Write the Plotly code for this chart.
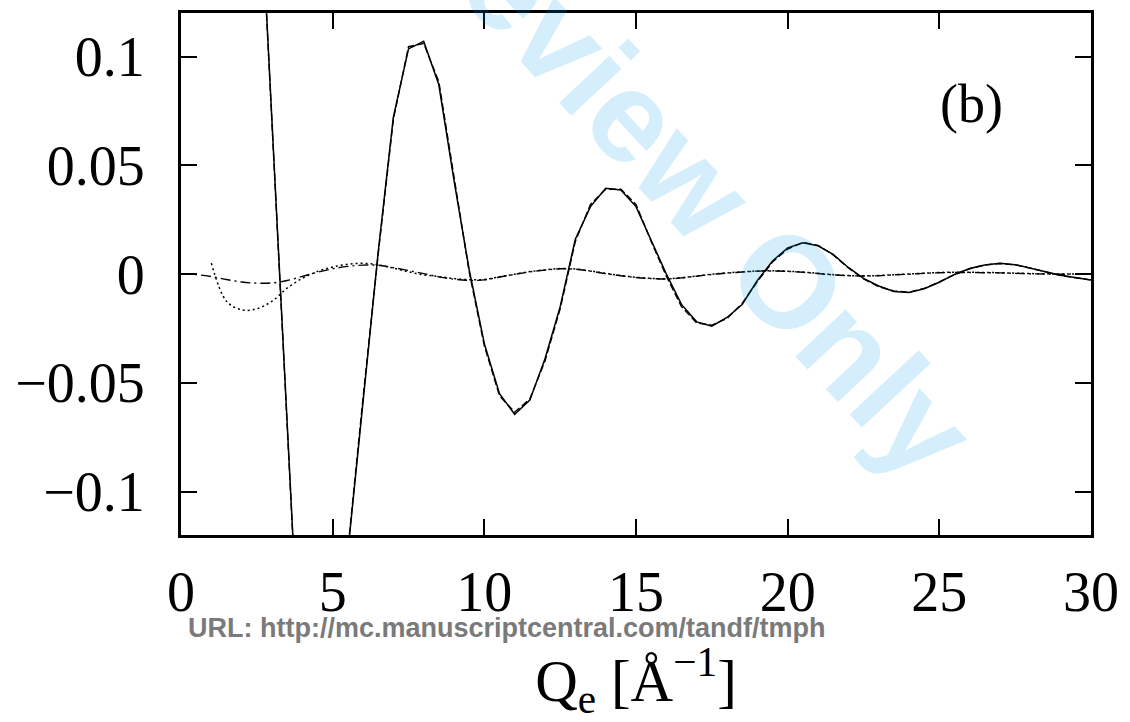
import plotly.graph_objects as go

# ---- data ----
q_main = [2.0, 2.5, 3.0, 3.5, 4.0, 4.5, 5.0, 5.5, 6.0, 6.5, 7.0, 7.5, 8.0, 8.5, 9.0, 9.5,
          10.0, 10.5, 11.0, 11.5, 12.0, 12.5, 13.0, 13.5, 14.0, 14.5, 15.0, 15.5, 16.0, 16.5,
          17.0, 17.5, 18.0, 18.5, 19.0, 19.5, 20.0, 20.5, 21.0, 21.5, 22.0, 22.5, 23.0, 23.5,
          24.0, 24.5, 25.0, 25.5, 26.0, 26.5, 27.0, 27.5, 28.0, 28.5, 29.0, 29.5, 30.0]
solid = [0.34, 0.209, 0.070, -0.0685, -0.207, -0.245, -0.200, -0.128, -0.058, 0.010, 0.072, 0.1035, 0.107,
         0.087, 0.043, 0.002, -0.032, -0.055, -0.0645, -0.058, -0.039, -0.015, 0.016, 0.031, 0.0394,
         0.0386, 0.031, 0.0156, 0.0, -0.014, -0.022, -0.024, -0.020, -0.014, -0.003, 0.006, 0.012,
         0.0144, 0.013, 0.009, 0.003, -0.002, -0.0055, -0.0080, -0.0085, -0.0068, -0.0038, -0.0002,
         0.0025, 0.0041, 0.0049, 0.0043, 0.0028, 0.0010, -0.0006, -0.0018, -0.0028]
dashed = [0.34, 0.208, 0.069, -0.0695, -0.208, -0.245, -0.199, -0.127, -0.057, 0.009, 0.071, 0.1045, 0.106,
          0.0885, 0.044, 0.001, -0.033, -0.056, -0.0635, -0.0575, -0.040, -0.016, 0.015, 0.032, 0.0390,
          0.0390, 0.032, 0.0150, -0.001, -0.015, -0.0225, -0.0235, -0.0205, -0.0135, -0.0035, 0.0055, 0.0115,
          0.0145, 0.0132, 0.0088, 0.0028, -0.0022, -0.0058, -0.0078, -0.0084, -0.0066, -0.0036, -0.0003,
          0.0024, 0.0042, 0.0048, 0.0042, 0.0027, 0.0009, -0.0007, -0.0018, -0.0027]

q_dot = [1.0, 1.5, 2.0, 2.5, 3.0, 3.5, 4.0, 4.5, 5.0, 5.5, 6.0, 6.5, 7.0, 7.5, 8.0, 8.5, 9.0, 9.5,
         10.0, 10.5, 11.0, 11.5, 12.0, 12.5, 13.0, 13.5, 14.0, 14.5, 15.0, 15.5, 16.0, 16.5, 17.0,
         17.5, 18.0, 18.5, 19.0, 19.5, 20.0, 20.5, 21.0, 21.5, 22.0, 22.5, 23.0, 23.5, 24.0, 24.5,
         25.0, 25.5, 26.0, 26.5, 27.0, 27.5, 28.0, 28.5, 29.0, 29.5, 30.0]
dotted = [0.005, -0.0125, -0.0165, -0.016, -0.0125, -0.0065, -0.002, 0.0012, 0.0032, 0.0045, 0.0049,
          0.0042, 0.0027, 0.0010, -0.0004, -0.0012, -0.0021, -0.0026, -0.0025, -0.0013, -0.0001, 0.0011,
          0.0019, 0.0025, 0.0023, 0.0014, 0.0003, -0.0007, -0.0015, -0.0020, -0.0022, -0.0017, -0.0009,
          -0.0001, 0.0005, 0.0010, 0.0014, 0.0015, 0.0013, 0.0009, 0.0003, -0.0003, -0.0007, -0.0008,
          -0.0007, -0.0003, 0.0000, 0.0004, 0.0007, 0.0008, 0.0008, 0.0007, 0.0006, 0.0004, 0.0002,
          0.0001, 0.0000, 0.0000, 0.0000]

q_dd = [0.0, 0.5, 1.0, 1.5, 2.0, 2.5, 3.0, 3.5, 4.0, 4.5, 5.0, 5.5, 6.0, 6.5, 7.0, 7.5, 8.0, 8.5, 9.0,
        9.5, 10.0, 10.5, 11.0, 11.5, 12.0, 12.5, 13.0, 13.5, 14.0, 14.5, 15.0, 15.5, 16.0, 16.5, 17.0,
        17.5, 18.0, 18.5, 19.0, 19.5, 20.0, 20.5, 21.0, 21.5, 22.0, 22.5, 23.0, 23.5, 24.0, 24.5, 25.0,
        25.5, 26.0, 26.5, 27.0, 27.5, 28.0, 28.5, 29.0, 29.5, 30.0]
dashdot = [0.0, -0.0003, -0.0012, -0.0025, -0.0037, -0.0042, -0.0041, -0.0030, -0.0011, 0.0008, 0.0024,
           0.0035, 0.0041, 0.0040, 0.0029, 0.0016, 0.0002, -0.0013, -0.0024, -0.0029, -0.0027, -0.0014,
           -0.0002, 0.0010, 0.0018, 0.0024, 0.0022, 0.0013, 0.0002, -0.0008, -0.0016, -0.0021, -0.0023,
           -0.0018, -0.0010, -0.0002, 0.0004, 0.0009, 0.0013, 0.0014, 0.0012, 0.0008, 0.0002, -0.0004,
           -0.0008, -0.0009, -0.0008, -0.0004, -0.0001, 0.0003, 0.0006, 0.0007, 0.0007, 0.0006, 0.0005,
           0.0003, 0.0001, 0.0000, -0.0001, 0.0000, 0.0000]

x_ticks = [0, 5, 10, 15, 20, 25, 30]
y_ticks = [-0.1, -0.05, 0, 0.05, 0.1]
y_tick_text = ["\u22120.1", "\u22120.05", "0", "0.05", "0.1"]

SERIF = "Liberation Serif, Times New Roman, serif"

fig = go.Figure()
fig.add_trace(go.Scatter(x=q_dd, y=dashdot, mode="lines",
                         line=dict(color="black", width=1.4, dash="10px,4px,2px,4px"),
                         line_shape="spline", showlegend=False))
fig.add_trace(go.Scatter(x=q_dot, y=dotted, mode="lines",
                         line=dict(color="black", width=1.5, dash="2px,3px"),
                         line_shape="spline", showlegend=False))
fig.add_trace(go.Scatter(x=q_main, y=dashed, mode="lines",
                         line=dict(color="black", width=1.4, dash="7px,3px"), showlegend=False))
fig.add_trace(go.Scatter(x=q_main, y=solid, mode="lines",
                         line=dict(color="black", width=1.5), showlegend=False))

axis_common = dict(showline=True, linecolor="black", linewidth=3, mirror="allticks",
                   ticks="inside", ticklen=16, tickwidth=2, tickcolor="black",
                   showgrid=False, zeroline=False, automargin=False,
                   tickfont=dict(family=SERIF, size=56, color="black"))

fig.update_xaxes(range=[0, 30], tickvals=x_ticks, ticklabelstandoff=6,
                 title=dict(text="Q<sub>e</sub> [Å<sup>\u22121</sup>]",
                            font=dict(family=SERIF, size=59, color="black"), standoff=48),
                 **axis_common)
fig.update_yaxes(range=[-0.12, 0.12], tickvals=y_ticks, ticktext=y_tick_text,
                 ticklabelstandoff=22, **axis_common)

fig.add_annotation(text="(b)", xref="paper", yref="paper", x=0.869, y=0.826,
                   xanchor="center", yanchor="middle", showarrow=False,
                   font=dict(family=SERIF, size=54, color="black"))
fig.add_annotation(text="URL: http://mc.manuscriptcentral.com/tandf/tmph",
                   xref="paper", yref="paper", x=0.006, y=-0.178,
                   xanchor="left", yanchor="middle", showarrow=False,
                   font=dict(family="Liberation Sans, Arial, sans-serif", size=27,
                             color="#7a7a7a", weight="bold"))
fig.add_annotation(text="For Peer Review Only", xref="paper", yref="paper",
                   x=0.345, y=1.086, xanchor="center", yanchor="middle",
                   textangle=47, showarrow=False,
                   font=dict(family="Liberation Sans, Arial, sans-serif", size=130,
                             color="rgba(0,160,230,0.17)", weight="bold"))

fig.update_layout(width=1130, height=722, paper_bgcolor="white", plot_bgcolor="white",
                  margin=dict(l=181, r=39, t=13, b=187), showlegend=False)

fig.write_html("out.html", config={"displayModeBar": False},
               post_script="document.body.style.margin='0px';")
